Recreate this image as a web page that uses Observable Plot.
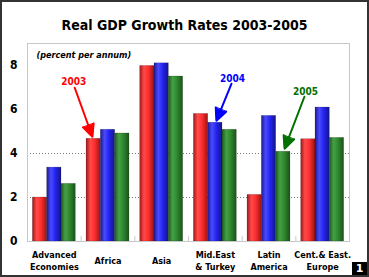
<!DOCTYPE html>
<html><head><meta charset="utf-8">
<script src="https://cdn.jsdelivr.net/npm/d3@7"></script>
<script src="https://cdn.jsdelivr.net/npm/@observablehq/plot@0.6"></script>
<style>
body{margin:0;background:#fff;}
#wrap{position:relative;width:369px;height:277px;box-sizing:border-box;border:2px solid #333;overflow:hidden;background:#fff;font-family:"DejaVu Sans Condensed","DejaVu Sans",sans-serif;}
#title{position:absolute;left:0;top:16px;width:100%;text-align:center;font-weight:bold;font-size:14px;line-height:14px;color:#000;}
#chart{position:absolute;left:0;top:34px;}
#badge{position:absolute;right:0;bottom:0;width:15px;height:13px;background:#000;color:#fff;font-weight:bold;font-size:11px;line-height:13px;text-align:center;font-family:"DejaVu Sans",sans-serif;}
</style></head><body>
<div id="wrap"><div id="title">Real GDP Growth Rates 2003-2005</div><div id="chart"></div><div id="badge">1</div></div>
<script>
// ---- data ----
const regions = ["Advanced\nEconomies", "Africa", "Asia", "Mid.East\n& Turkey", "Latin\nAmerica", "Cent.& East.\nEurope"];
const years = ["2003", "2004", "2005"];
const growth2003 = [2.0, 4.67, 7.98, 5.8, 2.12, 4.65];
const growth2004 = [3.36, 5.08, 8.1, 5.4, 5.71, 6.09];
const growth2005 = [2.62, 4.91, 7.5, 5.08, 4.08, 4.71];
const yTicks = [0, 2, 4, 6, 8];
const unitLabel = "(percent per annum)";

// annotation labels (data units: x = region index, y = percent)
const annLabel = ["2003", "2004", "2005"];
const annTextX = [0.36, 3.32, 4.68];
const annTextY = [7.26, 7.40, 6.80];
const annX1 = [0.38, 3.30, 4.66];
const annY1 = [6.99, 7.17, 6.58];
const annX2 = [0.71, 3.02, 4.29];
const annY2 = [4.76, 5.49, 4.22];

// ---- build tables ----
const series = [growth2003, growth2004, growth2005];
const rows = regions.flatMap((r, i) => years.map((yr, j) => ({i, j, region: r, year: yr, value: series[j][i]})));
const anns = annLabel.map((t, k) => ({t, tx: annTextX[k], ty: annTextY[k], x1: annX1[k], y1: annY1[k], x2: annX2[k], y2: annY2[k]}));

const bw = 0.2667;
const gradIds = ["g2003", "g2004", "g2005"];
const textColors = ["#ff0000", "#0000ff", "#007000"];

const plot = Plot.plot({
  width: 365,
  height: 239,
  marginLeft: 25,
  marginRight: 18,
  marginTop: 7,
  marginBottom: 34,
  style: {fontFamily: '"DejaVu Sans Condensed","DejaVu Sans",sans-serif', color: "#000", background: "transparent"},
  x: {domain: [-0.5, 5.5], axis: null},
  y: {domain: [0, 9]},
  color: {type: "ordinal", domain: years, range: gradIds.map(id => `url(#${id})`)},
  marks: [
    Plot.ruleY([2, 4], {stroke: "#777", strokeDasharray: "1,2", strokeWidth: 1}),
    Plot.ruleX(d3.range(regions.length - 1).map(i => i + 0.5), {y1: 0, y2: 0.22, stroke: "#c8c8c8"}),
    Plot.rectY(rows, {
      x1: d => d.i - 0.4 + d.j * bw,
      x2: d => d.i - 0.4 + (d.j + 1) * bw,
      y: "value",
      fill: "year",
      stroke: "#000", strokeOpacity: 0.25, strokeWidth: 0.6
    }),
    Plot.frame({stroke: "#c8c8c8"}),
    Plot.axisY({ticks: yTicks, tickSize: 0, tickPadding: 10, fontWeight: "bold", fontSize: 12}),
    Plot.text(regions, {x: (d, i) => i, frameAnchor: "bottom", dy: 19, lineAnchor: "middle", lineHeight: 1.33, fontWeight: "bold", fontSize: 9, fill: "#000"}),
    Plot.text([unitLabel], {frameAnchor: "top-left", dx: 9, dy: 12, lineAnchor: "middle", textAnchor: "start", fontStyle: "italic", fontWeight: "bold", fontSize: 9, fill: "#000"}),
    Plot.arrow(anns, {x1: "x1", y1: "y1", x2: "x2", y2: "y2", stroke: (d, k) => textColors[k], strokeWidth: 2, headLength: 10, headAngle: 50}),
    Plot.text(anns, {x: "tx", y: "ty", text: "t", fill: (d, k) => textColors[k], fontWeight: "bold", fontSize: 10})
  ]
});

// gradient definitions for the cylinder-like bar shading
const grads = [
  ["#a01818", "#ff4a4a", "#ff2e2e", "#9a1414"],
  ["#1a1a90", "#4a4aff", "#2424f0", "#14148a"],
  ["#1d5a1d", "#45a045", "#2f882f", "#1a521a"]
];
const defs = d3.select(plot).insert("defs", ":first-child");
grads.forEach((c, k) => {
  const g = defs.append("linearGradient").attr("id", gradIds[k]).attr("x1", "0%").attr("x2", "100%").attr("y1", "0%").attr("y2", "0%");
  g.append("stop").attr("offset", "0%").attr("stop-color", c[0]);
  g.append("stop").attr("offset", "30%").attr("stop-color", c[1]);
  g.append("stop").attr("offset", "60%").attr("stop-color", c[2]);
  g.append("stop").attr("offset", "100%").attr("stop-color", c[3]);
});

// fill the arrowheads (Plot draws them open)
d3.select(plot).selectAll("g[aria-label='arrow'] path").each(function () {
  const d = this.getAttribute("d") || "";
  const n = (d.match(/-?\d*\.?\d+(?:e-?\d+)?/g) || []).map(Number);
  if (n.length >= 10) {
    const pts = [[n[4], n[5]], [n[6], n[7]], [n[8], n[9]]];
    const col = this.getAttribute("stroke") || this.parentNode.getAttribute("stroke");
    d3.select(this.parentNode).append("polygon")
      .attr("points", pts.map(p => p.join(",")).join(" "))
      .attr("fill", col).attr("stroke", col).attr("stroke-width", 1).attr("stroke-linejoin", "miter");
  }
});
document.getElementById("chart").appendChild(plot);
</script>
</body></html>
